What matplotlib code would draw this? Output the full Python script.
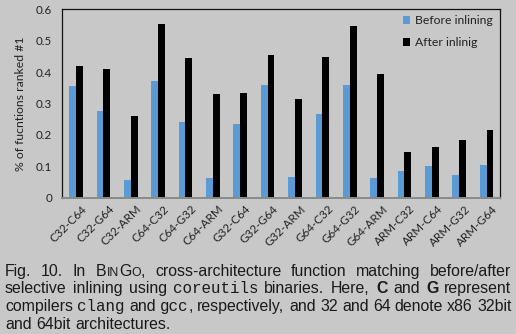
import matplotlib
matplotlib.use('Agg')
import matplotlib.pyplot as plt
import matplotlib.transforms as mtransforms
import numpy as np

categories = ['C32-C64', 'C32-G64', 'C32-ARM', 'C64-C32', 'C64-G32', 'C64-ARM',
              'G32-C64', 'G32-G64', 'G32-ARM', 'G64-C32', 'G64-G32', 'G64-ARM',
              'ARM-C32', 'ARM-C64', 'ARM-G32', 'ARM-G64']
before = [0.357, 0.276, 0.057, 0.371, 0.240, 0.063, 0.236, 0.358,
          0.066, 0.266, 0.358, 0.064, 0.085, 0.100, 0.074, 0.104]
after = [0.419, 0.410, 0.259, 0.552, 0.444, 0.329, 0.335, 0.456,
         0.313, 0.449, 0.547, 0.395, 0.147, 0.162, 0.185, 0.217]
yticks = [0, 0.1, 0.2, 0.3, 0.4, 0.5, 0.6]
ytick_labels = ['0', '0.1', '0.2', '0.3', '0.4', '0.5', '0.6']
series_labels = ['Before inlining', 'After inlinig']
ylabel = '% of fucntions ranked #1'

W, H = 516, 334
BG = '#c8c8c8'
BLUE = '#5b9bd5'
fig = plt.figure(figsize=(W / 100, H / 100), dpi=100, facecolor=BG)

left, right, top, bottom = 62.3, 500.3, 9.3, 197.8
ax = fig.add_axes([left / W, 1 - bottom / H, (right - left) / W, (bottom - top) / H])
ax.set_facecolor(BG)

x = np.arange(len(categories))
w = 0.25
ax.bar(x - w / 2, before, w, color=BLUE, linewidth=0, label=series_labels[0])
ax.bar(x + w / 2, after, w, color='black', linewidth=0, label=series_labels[1])
ax.set_xlim(-0.5, len(categories) - 0.5)
ax.set_ylim(0, 0.6)

tick_font = 'Lato'
ax.set_yticks(yticks)
ax.set_yticklabels(ytick_labels, fontsize=8.4, family=tick_font, color='#222222')
ax.set_xticks(x)
ax.set_xticklabels(categories, rotation=45, ha='right', va='top',
                   rotation_mode='anchor', fontsize=8.4, family=tick_font, color='#222222')
ax.tick_params(axis='both', length=0)
ax.tick_params(axis='y', pad=7.5)
ax.tick_params(axis='x', pad=4)
off = mtransforms.ScaledTranslation(5 / 100, 0, fig.dpi_scale_trans)
for lab in ax.get_xticklabels():
    lab.set_transform(lab.get_transform() + off)

ax.set_ylabel(ylabel, fontsize=8.8, family=tick_font, color='#222222', labelpad=7)

for s in ['left', 'top', 'right']:
    ax.spines[s].set_color('#111111')
    ax.spines[s].set_linewidth(0.9)
ax.spines['bottom'].set_color('#8a8a8a')
ax.spines['bottom'].set_linewidth(1.4)

leg = ax.legend(loc='upper left', bbox_to_anchor=(403 / W, 1 - 15 / H),
                bbox_transform=fig.transFigure, frameon=False,
                prop={'family': tick_font, 'size': 8.8},
                handlelength=0.6, handleheight=0.6, handletextpad=0.35,
                labelspacing=0.9, borderpad=0, borderaxespad=0)
for t in leg.get_texts():
    t.set_color('#222222')

# ---------- caption (justified) ----------
renderer = fig.canvas.get_renderer()
ident = mtransforms.IdentityTransform()
FS = 11.4
SC = 0.78
SANS = 'Liberation Sans'
MONO = 'Liberation Mono'

def R(s, size=FS, fam=SANS, weight='normal'):
    return (s, size, fam, weight)

caption_lines = [
    [[R('Fig.')], [R('10.')], [R('In')],
     [R('B'), R('IN', FS * SC), R('G'), R('O', FS * SC), R(',')],
     [R('cross-architecture')], [R('function')], [R('matching')], [R('before/after')]],
    [[R('selective')], [R('inlining')], [R('using')], [R('coreutils', FS, MONO)],
     [R('binaries.')], [R('Here,')], [R('C', FS, SANS, 'bold')], [R('and')],
     [R('G', FS, SANS, 'bold')], [R('represent')]],
    [[R('compilers')], [R('clang', FS, MONO)], [R('and')], [R('gcc', FS, MONO), R(',')],
     [R('respectively,')], [R('and')], [R('32')], [R('and')], [R('64')], [R('denote')],
     [R('x86')], [R('32bit')]],
    [[R('and')], [R('64bit')], [R('architectures.')]],
]
baselines = [276, 293, 311, 329]
x0, x1 = 5.0, 511.5

def ink_width(s, size, fam, weight):
    t = fig.text(0, 0, s, fontsize=size, family=fam, weight=weight, transform=ident)
    wdt = t.get_window_extent(renderer).width
    t.remove()
    return wdt

def run_width(run):
    # advance width: sandwich between two bars so side bearings are counted
    s, size, fam, weight = run
    return ink_width('|' + s + '|', size, fam, weight) - ink_width('||', size, fam, weight)

space_w = run_width(R(' '))
for li, (line, base) in enumerate(zip(caption_lines, baselines)):
    widths = [[run_width(r) for r in word] for word in line]
    total = sum(sum(ws) for ws in widths)
    if li < len(caption_lines) - 1:
        gap = (x1 - x0 - total) / (len(line) - 1)
    else:
        gap = space_w
    cx = x0
    for word, ws in zip(line, widths):
        wx = float(round(cx))
        for run, rw in zip(word, ws):
            s, size, fam, weight = run
            fig.text(wx, H - base, s, fontsize=size, family=fam, weight=weight,
                     transform=ident, ha='left', va='baseline', color='#1a1a1a')
            wx += rw
        cx += sum(ws) + gap

fig.savefig('out.png', dpi=100, facecolor=BG)
